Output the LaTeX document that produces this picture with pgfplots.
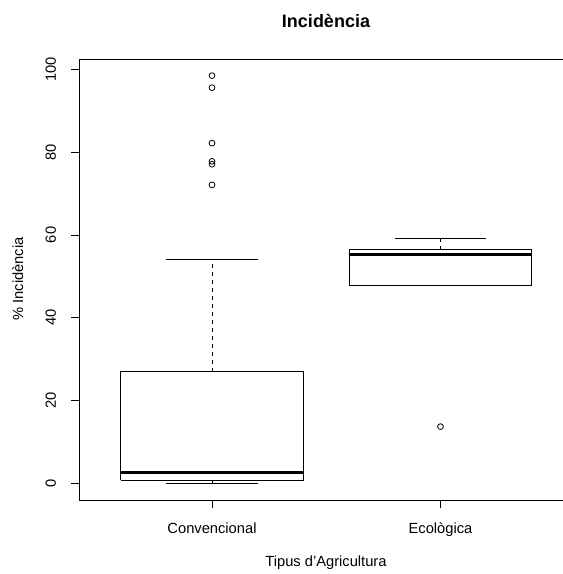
\documentclass[border=0pt]{standalone}
\usepackage{pgfplots}
\pgfplotsset{compat=1.18}
\usepackage{fontspec}
\setmainfont{Liberation Sans}
\begin{document}
\begin{tikzpicture}
\path[use as bounding box] (0pt,0pt) rectangle (563pt,574pt);
\clip (0pt,0pt) rectangle (563pt,574pt);
\begin{axis}[
  at={(79.5pt,74pt)}, anchor=south west,
  width=493.5pt, height=440.5pt, scale only axis,
  xmin=0.42, xmax=2.58, ymin=-4.03, ymax=102.4,
  axis line style={line width=0.9pt},
  xtick={1,2}, xticklabels={Convencional,Ecològica},
  ytick={0,20,...,100},
  xtick pos=bottom, ytick pos=left,
  tick align=outside, major tick length=8pt,
  tick style={line width=0.9pt, black},
  /pgf/number format/assume math mode=true,
  ticklabel style={font=\fontsize{14.7}{17}\selectfont},
  yticklabel style={rotate=90, anchor=south, yshift=12pt},
  xticklabel style={anchor=base, yshift=-25pt},
  clip=false,
]
% Convencional
\addplot[black, line width=0.9pt, no marks, solid] coordinates {(0.6,0.8) (1.4,0.8) (1.4,27.0) (0.6,27.0) (0.6,0.8)};
\addplot[black, line width=3pt, no marks, solid, line cap=butt] coordinates {(0.6,2.7) (1.4,2.7)};
\addplot[black, line width=0.9pt, no marks, dash pattern=on 4pt off 4pt] coordinates {(1,27.0) (1,54.2)};
\addplot[black, line width=0.9pt, no marks, dash pattern=on 4pt off 4pt] coordinates {(1,0.8) (1,0)};
\addplot[black, line width=0.9pt, no marks, solid] coordinates {(0.8,54.2) (1.2,54.2)};
\addplot[black, line width=0.9pt, no marks, solid] coordinates {(0.8,0) (1.2,0)};
\addplot[black, only marks, mark=o, mark size=2.9pt, mark options={solid, line width=0.8pt}] coordinates {(1,98.5) (1,95.6) (1,82.2) (1,77.8) (1,77.1) (1,72.1)};
% Ecologica
\addplot[black, line width=0.9pt, no marks, solid] coordinates {(1.6,47.8) (2.4,47.8) (2.4,56.4) (1.6,56.4) (1.6,47.8)};
\addplot[black, line width=3pt, no marks, solid, line cap=butt] coordinates {(1.6,55.2) (2.4,55.2)};
\addplot[black, line width=0.9pt, no marks, dash pattern=on 4pt off 4pt] coordinates {(2,56.4) (2,59.2)};
\addplot[black, line width=0.9pt, no marks, solid] coordinates {(1.8,59.2) (2.2,59.2)};
\addplot[black, only marks, mark=o, mark size=2.9pt, mark options={solid, line width=0.8pt}] coordinates {(2,13.7)};
\end{axis}
\node[anchor=base, font=\fontsize{18}{21}\selectfont\bfseries] at (326pt,546pt) {Incidència};
\node[anchor=base, font=\fontsize{14.7}{17}\selectfont] at (326pt,7pt) {Tipus d'Agricultura};
\node[anchor=base, rotate=90, font=\fontsize{14.7}{17}\selectfont] at (23pt,295pt) {\% Incidència};
\end{tikzpicture}
\end{document}
